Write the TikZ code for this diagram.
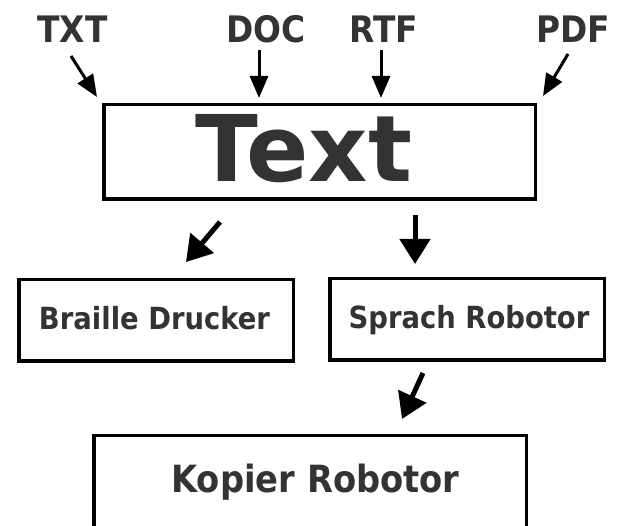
\documentclass[tikz,border=0pt]{standalone}
\usepackage{fontspec}
\setmainfont{DejaVu Sans Condensed}
\newfontfamily\widefont{DejaVu Sans}
\usepackage{tikz}
\usetikzlibrary{arrows.meta,positioning}
\definecolor{ink}{HTML}{333333}

\begin{document}
\begin{tikzpicture}[x=1pt,y=1pt]
                \tikzstyle{every node}+=[inner sep=0pt]
                \tikzstyle{fmt}=[anchor=base, text=ink, font=\bfseries\fontsize{36.5}{42}\selectfont]
                \tikzstyle{lbl}=[anchor=base, text=ink, font=\bfseries\fontsize{30.5}{36}\selectfont]
                \tikzstyle{box}=[draw=black, line width=3.5pt, rectangle, minimum height=81.5pt]
                \tikzstyle{inarrow}=[black, line width=3pt, -{Triangle[length=22pt,width=18pt]}]
                \tikzstyle{outarrow}=[black, line width=5pt, -{Triangle[length=25pt,width=30pt]}]
                \clip (0,0) rectangle (622,-526);
                \node [fmt] (txt) at (72.5,-43) {TXT};
                \node [fmt] (doc) at (266,-43) {DOC};
                \node [fmt] (rtf) at (384,-43) {RTF};
                \node [fmt] (pdf) at (573.5,-43) {PDF};
                \node [box, minimum width=431.5pt, minimum height=94.5pt] (textbox) at (319.5,-152) {};
                \node [anchor=base, text=ink, font=\widefont\bfseries\fontsize{92}{104}\selectfont] (text) at (304,-182) {Text};
                \node [box, minimum width=274.5pt] (braillebox) at (156,-320.5) {};
                \node [lbl] (braille) at (154.5,-330) {Braille Drucker};
                \node [box, minimum width=274.5pt] (sprachbox) at (467,-319.5) {};
                \node [lbl] (sprach) at (469,-329) {Sprach Robotor};
                \node [box, minimum width=432.5pt, minimum height=140pt] (kopierbox) at (310,-505.75) {};
                \node [fmt, font=\bfseries\fontsize{37.5}{42}\selectfont] (kopier) at (315.5,-493) {Kopier Robotor};
                \coordinate (txtA) at (71,-56);
                \coordinate (txtB) at (97,-97);
                \coordinate (docA) at (259,-50);
                \coordinate (docB) at (259,-98);
                \coordinate (rtfA) at (381,-50);
                \coordinate (rtfB) at (381,-98);
                \coordinate (pdfA) at (568,-54);
                \coordinate (pdfB) at (543,-96);
                \coordinate (brailleA) at (220,-222);
                \coordinate (brailleB) at (186,-262);
                \coordinate (sprachA) at (415,-215);
                \coordinate (sprachB) at (415,-264);
                \coordinate (kopierA) at (423,-373);
                \coordinate (kopierB) at (402,-419);
                \draw [inarrow] (txtA) -- (txtB);
                \draw [inarrow] (docA) -- (docB);
                \draw [inarrow] (rtfA) -- (rtfB);
                \draw [inarrow] (pdfA) -- (pdfB);
                \draw [outarrow] (brailleA) -- (brailleB);
                \draw [outarrow] (sprachA) -- (sprachB);
                \draw [outarrow] (kopierA) -- (kopierB);
\end{tikzpicture}
\end{document}
